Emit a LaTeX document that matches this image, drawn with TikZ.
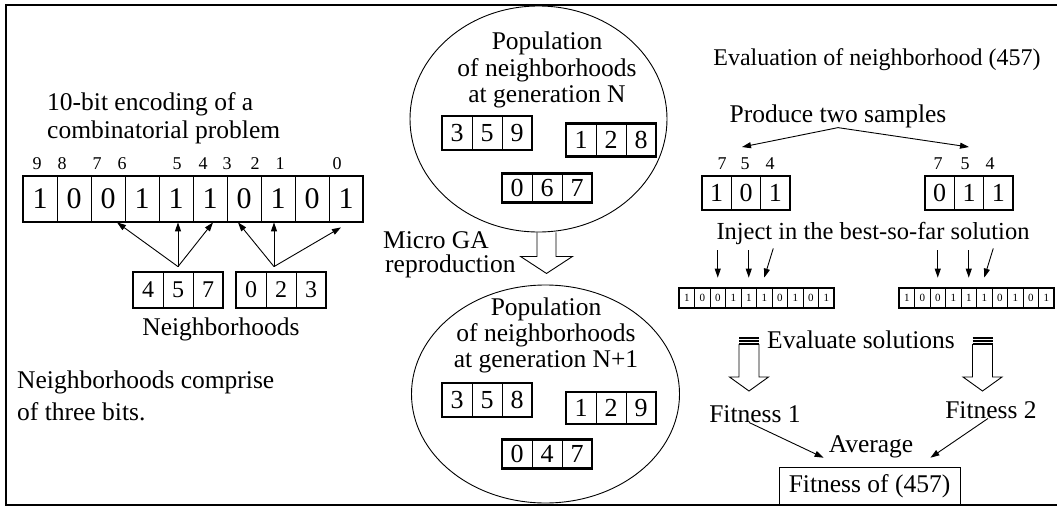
\documentclass[tikz,border=0pt]{standalone}
\usepackage{fontspec}
\setmainfont{Liberation Serif}
\usetikzlibrary{calc,arrows.meta,shapes.geometric}

\tikzset{
	txt/.style={inner sep=0pt, font=\fontsize{25.5}{30}\selectfont},
	idx/.style={inner sep=0pt, font=\fontsize{18}{20}\selectfont},
	cell/.style={draw, line width=0.8pt, inner sep=0pt},
	digbig/.style={font=\fontsize{30}{32}\selectfont},
	digmid/.style={font=\fontsize{26}{28}\selectfont},
	digsml/.style={font=\fontsize{24}{26}\selectfont},
	digtiny/.style={font=\fontsize{11}{13}\selectfont},
	arr/.style={-{Triangle[length=9pt,width=6pt]}, line width=0.9pt},
	pop/.style={draw, ellipse, line width=0.9pt, inner sep=0pt},
}
% [style] name, left, centre y, cell width, cell height, no. of cells, bits
\newcommand\bitrow[8][]{%
	\foreach \b [count=\i] in {#8}
		\node[cell, #1, minimum width=#5pt, minimum height=#6pt] (#2-\i) at ({#3+(\i-0.5)*#5}, #4) {\b};
	\draw[line width=2.2pt] (#3, {#4-#6/2}) rectangle ++({#7*#5}, #6);
}
% [style] top centre, shaft half width, head half width, shaft length, head length
\newcommand\hollowarrow[6][]{%
	\draw[line width=0.9pt, #1] ($(#2)+(-#3,0)$) -- ++(0,#5) -- ++({#3-#4},0) -- ++(#4,#6) -- ++(#4,-#6) -- ++({#3-#4},0) -- ++(0,-#5);
}

\begin{document}
\begin{tikzpicture}[x=1pt, y=-1pt]
			%%%%% START %%%%%
			\useasboundingbox (0,0) rectangle (1057,506);
			\draw[line width=2pt] (1057,5) -- (6,5) -- (6,505) -- (1057,505);
			
			%%%%% encoding %%%%%
			\node[txt, anchor=base west] (title-a) at (47,110) {10-bit encoding of a};
			\node[txt, anchor=base west] (title-b) at (47,138) {combinatorial problem};
			\foreach \d/\x in {9/37,8/62,7/97,6/122,5/177,4/203,3/227,2/255,1/280,0/337}
				\node[idx, anchor=base] (bit\d) at (\x,169) {\d};
			\bitrow[digbig]{enc}{23}{199}{34}{46}{10}{1,0,0,1,1,1,0,1,0,1}
			
			\bitrow[digsml]{nbA}{133}{290}{30}{36}{3}{4,5,7}
			\bitrow[digsml]{nbB}{236}{290}{30}{36}{3}{0,2,3}
			\coordinate (apA) at ([yshift=5pt]nbA-2.north);
			\coordinate (apB) at ([xshift=-7pt,yshift=5pt]nbB-2.north);
			\foreach \t/\s in {3/9,5/2,6/3}
				\draw[arr] (apA) -- ([xshift=\s pt]enc-\t.south);
			\foreach \t/\s in {7/-6,8/-4}
				\draw[arr] (apB) -- ([xshift=\s pt]enc-\t.south);
			\draw[arr] (apB) -- ([xshift=-5pt,yshift=-5pt]enc-10.south);
			\node[txt, anchor=base] (nblabel) at (221,335) {Neighborhoods};
			
			\node[txt, anchor=base west] (note-a) at (17,388) {Neighborhoods comprise};
			\node[txt, anchor=base west] (note-b) at (17,420) {of three bits.};
			
			%%%%% populations %%%%%
			\node[pop, minimum width=257pt, minimum height=226pt] (popN) at (538.5,119) {};
			\node[txt, anchor=base] (popN-a) at (547,49) {Population};
			\node[txt, anchor=base] (popN-b) at (547,76) {of neighborhoods};
			\node[txt, anchor=base] (popN-c) at (547,102) {at generation N};
			\bitrow[digmid]{pN1}{442}{133}{30}{34}{3}{3,5,9}
			\bitrow[digmid]{pN2}{566}{140}{30}{33}{3}{1,2,8}
			\bitrow[digmid]{pN3}{502}{188}{30}{29}{3}{0,6,7}
			
			\coordinate (ga) at ([xshift=8pt]popN.south);
			\hollowarrow{ga}{9.5}{26}{24}{17}
			\node[txt, anchor=base west] (ga-a) at (383,248) {Micro GA};
			\node[txt, anchor=base west] (ga-b) at (385,272) {reproduction};
			
			\node[pop, minimum width=268pt, minimum height=218pt] (popM) at (545.5,394) {};
			\node[txt, anchor=base] (popM-a) at (546,315) {Population};
			\node[txt, anchor=base] (popM-b) at (546,341) {of neighborhoods};
			\node[txt, anchor=base] (popM-c) at (546,367) {at generation N+1};
			\bitrow[digmid]{pM1}{442}{400}{30}{34}{3}{3,5,8}
			\bitrow[digmid]{pM2}{566}{408}{30}{32}{3}{1,2,9}
			\bitrow[digmid]{pM3}{502}{454}{30}{29}{3}{0,4,7}
			
			%%%%% evaluation %%%%%
			\node[txt, font=\fontsize{24}{28}\selectfont, anchor=base] (evalhd) at (877,65) {Evaluation of neighborhood (457)};
			\node[txt, anchor=base] (prod) at (838,122) {Produce two samples};
			\foreach \d/\x in {7/722,5/745,4/770}
				\node[idx, anchor=base] (sa\d) at (\x,169) {\d};
			\foreach \d/\x in {7/938,5/965,4/990}
				\node[idx, anchor=base] (sb\d) at (\x,169) {\d};
			\bitrow[digmid]{smpA}{702}{193}{29.33}{34}{3}{1,0,1}
			\bitrow[digmid]{smpB}{925}{193}{29.33}{34}{3}{0,1,1}
			\draw[arr] (prod.south) -- ([xshift=-3pt,yshift=10pt]sa5.north);
			\draw[arr] (prod.south) -- ([xshift=4pt,yshift=10pt]sb5.north);
			
			\node[txt, font=\fontsize{24.5}{28}\selectfont, anchor=base] (inject) at (873,239) {Inject in the best-so-far solution};
			\bitrow[digtiny]{solA}{679}{298}{15.5}{20}{10}{1,0,0,1,1,1,0,1,0,1}
			\bitrow[digtiny]{solB}{899}{298}{15.5}{20}{10}{1,0,0,1,1,1,0,1,0,1}
			\foreach \s in {solA,solB} {
				\draw[arr] ($(\s-3.north |- inject.south)+(0,6)$) -- ([yshift=10pt]\s-3.north);
				\draw[arr] ($(\s-5.north |- inject.south)+(0,6)$) -- ([yshift=10pt]\s-5.north);
				\draw[arr] ($(\s-6.north |- inject.south)+(9,4)$) -- ([yshift=10pt]\s-6.north);
			}
			
			\node[txt, anchor=base] (evalsol) at (861,348) {Evaluate solutions};
			\coordinate (evL) at (749,344);
			\coordinate (evR) at (982.5,344);
			\foreach \c in {evL,evR} {
				\hollowarrow{\c}{10}{19.5}{33}{14}
				\foreach \d in {0,-3,-6}
					\draw[line width=1.3pt] ($(\c)+(-10,\d)$) -- ++(20,0);
			}
			
			\node[txt, anchor=base] (fit1) at (755,422) {Fitness 1};
			\node[txt, anchor=base] (fit2) at (991,418) {Fitness 2};
			\node[txt, anchor=base] (avg) at (871,452) {Average};
			\node[txt, draw, line width=0.9pt, minimum width=181pt, minimum height=38pt] (fitall) at (869.5,486) {Fitness of (457)};
			\draw[arr] ([xshift=-6pt]fit1.south) -- ([xshift=-5pt]avg.south west);
			\draw[arr] ([xshift=-3pt]fit2.south) -- ([xshift=17pt]avg.south east);
			%%%%% END %%%%%
\end{tikzpicture}
\end{document}
